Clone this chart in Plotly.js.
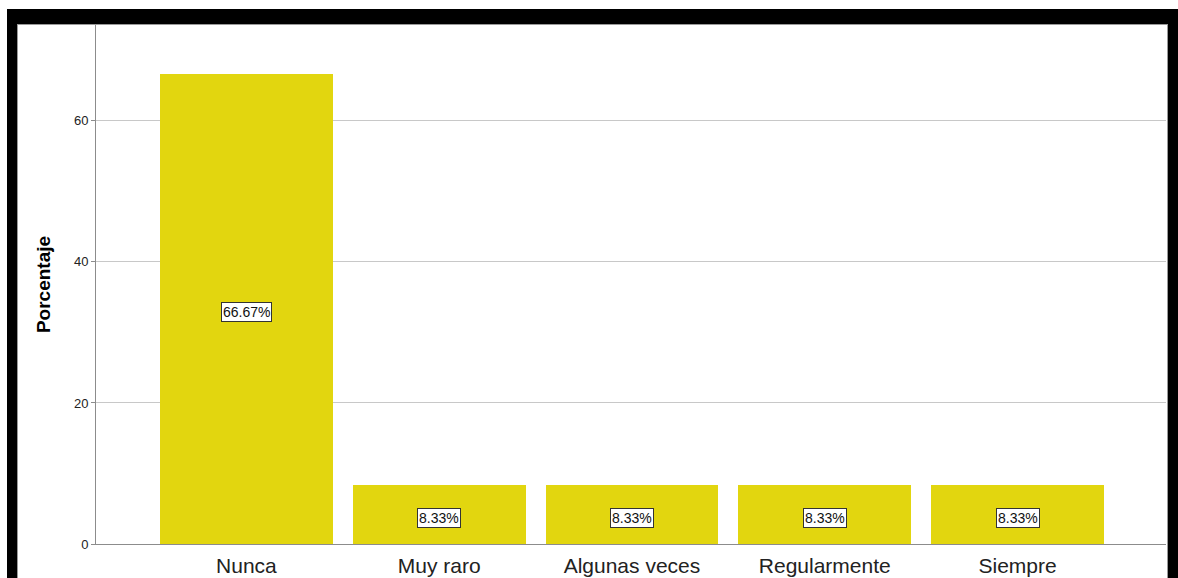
<!DOCTYPE html>
<html>
<head>
<meta charset="utf-8">
<script src="https://cdn.plot.ly/plotly-3.0.1.min.js"></script>
<style>
  html, body { margin: 0; padding: 0; background: #ffffff; width: 1178px; height: 578px; overflow: hidden; }
  #frame { position: absolute; left: 7px; top: 9px; width: 1171px; height: 580px; background: #000000; }
  #chart { position: absolute; left: 17px; top: 24px; width: 1151px; height: 560px; box-sizing: border-box;
           border-left: 1px solid #9a9a9a; border-top: 1px solid #9a9a9a; border-right: 1px solid #9a9a9a; background: #ffffff; }
</style>
</head>
<body>
<div id="frame"></div>
<div id="chart"><div id="plot"></div></div>
<script>
const categories = ["Nunca", "Muy raro", "Algunas veces", "Regularmente", "Siempre"];
const percentages = [66.67, 8.33, 8.33, 8.33, 8.33];
const labels = ["66.67%", "8.33%", "8.33%", "8.33%", "8.33%"];
const yTicks = [0, 20, 40, 60];

const trace = {
  type: "bar",
  x: categories,
  y: percentages,
  width: 0.896,
  marker: { color: "#e2d60f", line: { width: 0 } },
  hoverinfo: "skip"
};

const annotations = categories.map((c, i) => ({
  x: c, y: percentages[i] / 2, xref: "x", yref: "y",
  yshift: -3,
  text: labels[i], showarrow: false,
  font: { family: "Liberation Sans, Arial, sans-serif", size: 14, color: "#111111" },
  bgcolor: "#ffffff", bordercolor: "#333333", borderwidth: 1, borderpad: 1
}));

const layout = {
  width: 1149, height: 553,
  margin: { l: 78, r: 1, t: 0, b: 34 },
  paper_bgcolor: "#ffffff", plot_bgcolor: "#ffffff",
  showlegend: false,
  bargap: 0,
  xaxis: {
    type: "category",
    range: [-0.78, 4.77],
    showgrid: false, zeroline: false,
    showline: true, linecolor: "#8c8c8c", linewidth: 1,
    ticks: "", ticklen: 0,
    ticklabelstandoff: 3,
    tickfont: { family: "Liberation Sans, Arial, sans-serif", size: 21, color: "#222222" },
    fixedrange: true
  },
  yaxis: {
    range: [0, 73.6],
    tickvals: yTicks, ticktext: yTicks.map(String),
    showgrid: true, gridcolor: "#c8c8c8", gridwidth: 1,
    zeroline: false,
    showline: true, linecolor: "#8c8c8c", linewidth: 1,
    ticks: "outside", ticklen: 4, tickcolor: "#8c8c8c",
    tickfont: { family: "Liberation Sans, Arial, sans-serif", size: 13, color: "#222222" },
    title: { text: "<b>Porcentaje</b>", standoff: 18,
             font: { family: "Liberation Sans, Arial, sans-serif", size: 19, color: "#000000" } },
    fixedrange: true
  },
  annotations: annotations
};

Plotly.newPlot("plot", [trace], layout, { displayModeBar: false, staticPlot: true });
</script>
</body>
</html>
